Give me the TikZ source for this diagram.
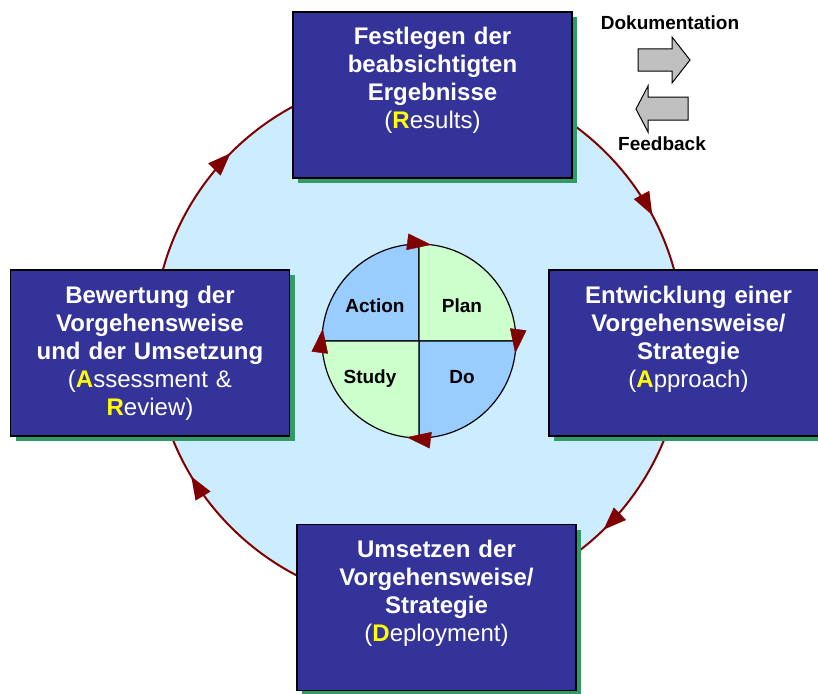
\documentclass[tikz,border=0pt]{standalone}
\usepackage{fontspec}
\setmainfont{Liberation Sans}
\usetikzlibrary{arrows.meta,decorations.markings,shadows,calc}

\definecolor{boxblue}{RGB}{51,51,153}
\definecolor{shadowgreen}{RGB}{51,153,102}
\definecolor{ringfill}{RGB}{204,236,255}
\definecolor{ringred}{RGB}{128,0,0}
\definecolor{quadblue}{RGB}{153,204,255}
\definecolor{quadgreen}{RGB}{204,255,204}
\definecolor{tipgray}{RGB}{192,192,192}
\definecolor{keyyellow}{RGB}{255,255,0}

\newcommand\keyletter[1]{\textcolor{keyyellow}{\bfseries #1}}

\tikzset{
  phase/.style={rectangle, fill=boxblue, draw=black, line width=1.4pt,
    minimum width=279pt, minimum height=166pt, inner sep=0pt,
    text width=270pt, align=center, text height=33pt, text depth=133pt,
    text=white, font=\fontsize{24}{28}\selectfont\bfseries,
    drop shadow={shadow xshift=5pt, shadow yshift=-5pt, fill=shadowgreen, opacity=1}},
  quad/.style={draw=black, line width=1.2pt},
  quadlabel/.style={anchor=base, font=\fontsize{19}{22}\selectfont\bfseries},
  sidelabel/.style={anchor=base, font=\fontsize{19}{22}\selectfont\bfseries},
  blockarrow/.style={fill=tipgray, draw=black, line width=1pt, line join=miter},
  redtip/.style={Triangle[length=23pt, width=17pt, color=ringred]}
}

\begin{document}
\begin{tikzpicture}[x=1pt, y=-1pt]
  \useasboundingbox (0,0) rectangle (818,693);
  \fill[white] (0,0) rectangle (818,693);

  \coordinate (ring) at (418.5,340);
  \coordinate (hub) at (419,341);

  % outer cycle
  \fill[ringfill] (ring) circle[radius=265];
  \draw[ringred, line width=2pt, postaction={decorate},
    decoration={markings,
      mark=at position 0.127 with {\arrow{Triangle[length=23pt, width=17pt, color=ringred]}},
      mark=at position 0.414 with {\arrow{Triangle[length=23pt, width=17pt, color=ringred]}},
      mark=at position 0.6245 with {\arrow{Triangle[length=23pt, width=17pt, color=ringred]}},
      mark=at position 0.922 with {\arrow{Triangle[length=23pt, width=17pt, color=ringred]}}}]
    (ring) circle[radius=265];

  % PDCA wheel
  \filldraw[quad, fill=quadblue]  (hub) -- ++(180:97) arc[start angle=180, end angle=270, radius=97] -- cycle;
  \filldraw[quad, fill=quadgreen] (hub) -- ++(270:97) arc[start angle=270, end angle=360, radius=97] -- cycle;
  \filldraw[quad, fill=quadblue]  (hub) -- ++(0:97) arc[start angle=0, end angle=90, radius=97] -- cycle;
  \filldraw[quad, fill=quadgreen] (hub) -- ++(90:97) arc[start angle=90, end angle=180, radius=97] -- cycle;
  \path[decorate, decoration={markings,
      mark=at position 0.02 with {\arrow{Triangle[length=24pt, width=16.5pt, color=ringred]}},
      mark=at position 0.27 with {\arrow{Triangle[length=24pt, width=16.5pt, color=ringred]}},
      mark=at position 0.52 with {\arrow{Triangle[length=24pt, width=16.5pt, color=ringred]}},
      mark=at position 0.77 with {\arrow{Triangle[length=24pt, width=16.5pt, color=ringred]}}}]
    (hub) circle[radius=97];

  \node[quadlabel] (action) at (375,312.5) {Action};
  \node[quadlabel] (plan)   at (462,312.5) {Plan};
  \node[quadlabel] (study)  at (370,383) {Study};
  \node[quadlabel] (do)     at (462,383) {Do};

  % phase boxes
  \node[phase] (results) at (432.5,95)
    {Festlegen der\\beabsichtigten\\Ergebnisse\\{\mdseries(\keyletter{R}esults)}};
  \node[phase] (approach) at (688.5,353)
    {Entwicklung einer\\Vorgehensweise/\\Strategie\\{\mdseries(\keyletter{A}pproach)}};
  \node[phase] (deployment) at (436.5,607.5)
    {Umsetzen der\\Vorgehensweise/\\Strategie\\{\mdseries(\keyletter{D}eployment)}};
  \node[phase] (review) at (150,353)
    {Bewertung der\\Vorgehensweise\\und der Umsetzung\\{\mdseries(\keyletter{A}ssessment \&}\\{\mdseries\keyletter{R}eview)}};

  % legend arrows
  \filldraw[blockarrow] (638,49) -- (672,49) -- (672,37) -- (690,60) -- (672,83) -- (672,71) -- (638,71) -- cycle;
  \filldraw[blockarrow] (688,97) -- (648,97) -- (648,86) -- (636,109) -- (648,132) -- (648,120) -- (688,120) -- cycle;
  \node[sidelabel] (doku) at (670,30) {Dokumentation};
  \node[sidelabel] (feedback) at (662,150) {Feedback};
\end{tikzpicture}
\end{document}
